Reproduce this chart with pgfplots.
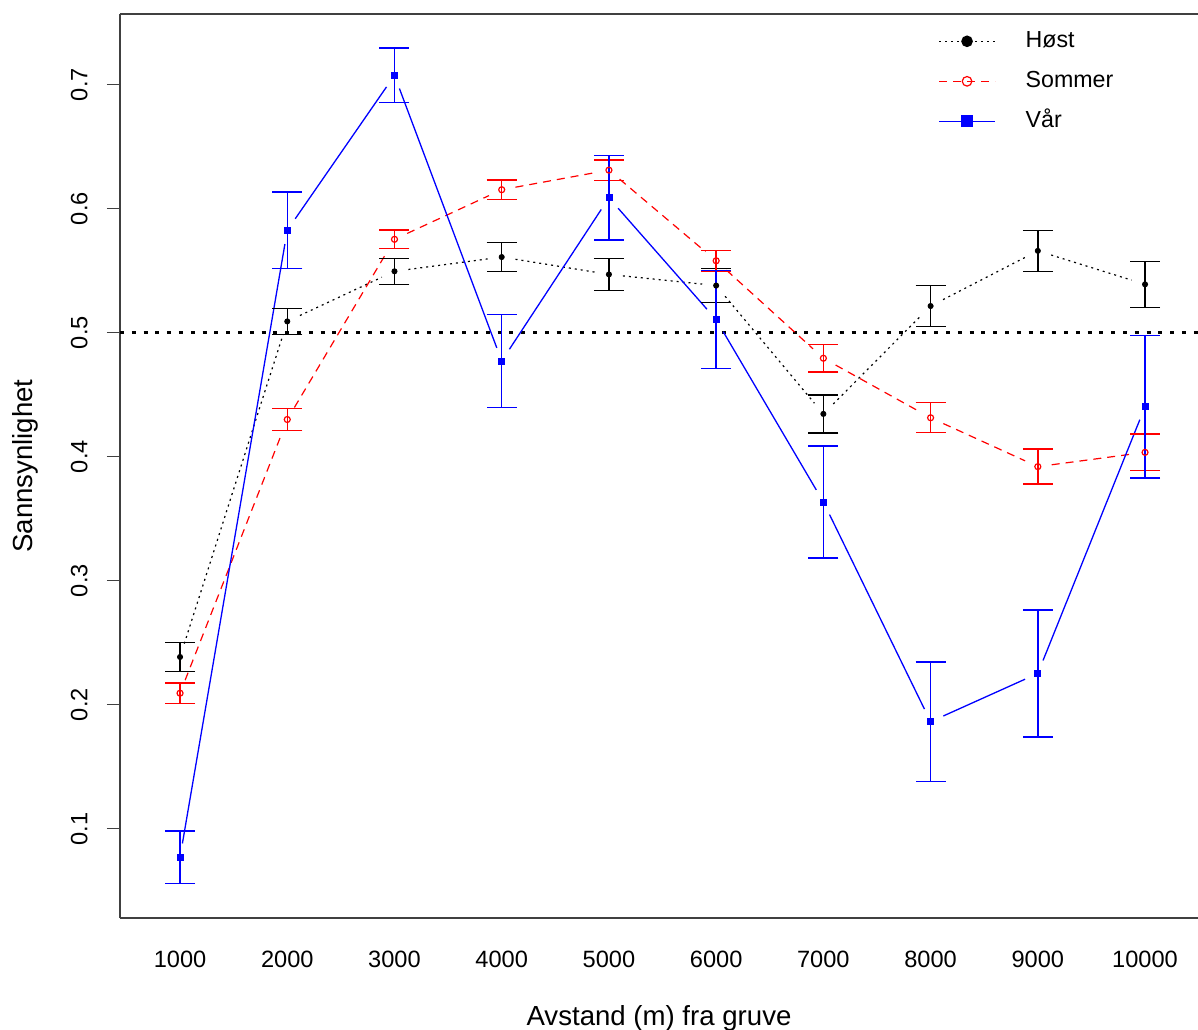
\documentclass[border=0pt]{standalone}
\usepackage{fontspec}
\setmainfont{Liberation Sans}
\usepackage{pgfplots}
\usepackage{pgfplotstable}
\pgfplotsset{compat=1.18}
\usetikzlibrary{calc}

\pgfplotstableread{
x y e
1000 0.2385 0.0117
2000 0.5091 0.0106
3000 0.5495 0.0105
4000 0.5610 0.0118
5000 0.5470 0.0128
6000 0.5380 0.0137
7000 0.4345 0.0153
8000 0.5215 0.0164
9000 0.5660 0.0165
10000 0.5390 0.0186
}\host
\pgfplotstableread{
x y e
1000 0.2093 0.0082
2000 0.4300 0.0089
3000 0.5753 0.0076
4000 0.6153 0.0077
5000 0.6311 0.0082
6000 0.5580 0.0085
7000 0.4794 0.0110
8000 0.4314 0.0121
9000 0.3920 0.0141
10000 0.4035 0.0147
}\sommer
\pgfplotstableread{
x y e
1000 0.0770 0.0212
2000 0.5826 0.0310
3000 0.7075 0.0221
4000 0.4772 0.0373
5000 0.6088 0.0339
6000 0.5105 0.0395
7000 0.3635 0.0452
8000 0.1863 0.0483
9000 0.2252 0.0511
10000 0.4403 0.0574
}\var

\definecolor{axgray}{RGB}{64,64,64}
\definecolor{rblue}{RGB}{0,0,255}
\definecolor{rred}{RGB}{255,0,0}

\begin{document}
\begin{tikzpicture}
\begin{axis}[
  scale only axis, width=539pt, height=452pt,
  xmin=440, xmax=10494, ymin=0.028, ymax=0.757,
  axis x line*=box, axis y line*=left,
  axis line style={axgray, line width=0.75pt},
  scaled x ticks=false, scaled y ticks=false,
  xtick={1000,2000,3000,4000,5000,6000,7000,8000,9000,10000},
  ytick={0.1,0.2,0.3,0.4,0.5,0.6,0.7},
  yticklabels={0.1,0.2,0.3,0.4,0.5,0.6,0.7},
  xticklabels={1000,2000,3000,4000,5000,6000,7000,8000,9000,10000},
  tick align=outside, major tick length=6.5pt,
  tick style={axgray, line width=0.75pt},
  x tick style={draw=none},
  xticklabel style={font=\fontsize{11.8pt}{13pt}\selectfont, inner sep=0pt, anchor=north, yshift=-10pt},
  yticklabel style={font=\fontsize{11.8pt}{13pt}\selectfont, rotate=90, anchor=south, inner sep=0pt},
  yticklabel shift=9.5pt,
  xlabel={Avstand (m) fra gruve},
  ylabel={Sannsynlighet},
  xlabel style={font=\fontsize{13.8pt}{16pt}\selectfont, at={([yshift=-53.5pt]axis description cs:0.5,0)}, anchor=base},
  ylabel style={font=\fontsize{13.8pt}{16pt}\selectfont, at={([xshift=-43.5pt]axis description cs:0,0.5)}, rotate=0, anchor=base},
  legend image code/.code={\draw[mark repeat=2,mark phase=2] plot coordinates {(0pt,0pt) (14pt,0pt) (28pt,0pt)};},
  legend style={draw=none, fill=none, at={(0.7588,0.9835)}, anchor=north west, inner sep=0pt,
    column sep=15pt, row sep=8pt, font=\fontsize{11.6pt}{13pt}\selectfont,
    nodes={inner sep=0pt, text height=9pt, text depth=3pt}},
  legend cell align=left,
]
% reference line
\addplot[black, line width=1.4pt, dash pattern=on 2pt off 3.9pt, forget plot] coordinates {(440,0.5) (10494,0.5)};

% Høst segments
\pgfplotsset{hseg/.style={black, line width=0.6pt, dash pattern=on 1pt off 2pt, shorten <=7pt, shorten >=7pt, forget plot}}
\addplot[hseg] coordinates {(1000,0.2385) (2000,0.5091)};
\addplot[hseg] coordinates {(2000,0.5091) (3000,0.5495)};
\addplot[hseg] coordinates {(3000,0.5495) (4000,0.5610)};
\addplot[hseg] coordinates {(4000,0.5610) (5000,0.5470)};
\addplot[hseg] coordinates {(5000,0.5470) (6000,0.5380)};
\addplot[hseg] coordinates {(6000,0.5380) (7000,0.4345)};
\addplot[hseg] coordinates {(7000,0.4345) (8000,0.5215)};
\addplot[hseg] coordinates {(8000,0.5215) (9000,0.5660)};
\addplot[hseg] coordinates {(9000,0.5660) (10000,0.5390)};

% Sommer segments
\pgfplotsset{sseg/.style={rred, line width=0.6pt, dash pattern=on 4pt off 3pt, shorten <=7pt, shorten >=7pt, forget plot}}
\addplot[sseg] coordinates {(1000,0.2093) (2000,0.4300)};
\addplot[sseg] coordinates {(2000,0.4300) (3000,0.5753)};
\addplot[sseg] coordinates {(3000,0.5753) (4000,0.6153)};
\addplot[sseg] coordinates {(4000,0.6153) (5000,0.6311)};
\addplot[sseg] coordinates {(5000,0.6311) (6000,0.5580)};
\addplot[sseg] coordinates {(6000,0.5580) (7000,0.4794)};
\addplot[sseg] coordinates {(7000,0.4794) (8000,0.4314)};
\addplot[sseg] coordinates {(8000,0.4314) (9000,0.3920)};
\addplot[sseg] coordinates {(9000,0.3920) (10000,0.4035)};

% Vår segments
\pgfplotsset{vseg/.style={rblue, line width=0.65pt, solid, shorten <=7pt, shorten >=7pt, forget plot}}
\addplot[vseg] coordinates {(1000,0.0770) (2000,0.5826)};
\addplot[vseg] coordinates {(2000,0.5826) (3000,0.7075)};
\addplot[vseg] coordinates {(3000,0.7075) (4000,0.4772)};
\addplot[vseg] coordinates {(4000,0.4772) (5000,0.6088)};
\addplot[vseg] coordinates {(5000,0.6088) (6000,0.5105)};
\addplot[vseg] coordinates {(6000,0.5105) (7000,0.3635)};
\addplot[vseg] coordinates {(7000,0.3635) (8000,0.1863)};
\addplot[vseg] coordinates {(8000,0.1863) (9000,0.2252)};
\addplot[vseg] coordinates {(9000,0.2252) (10000,0.4403)};

% points with error bars
\addplot[only marks, black, mark=*, mark size=1.3pt, forget plot,
  error bars/.cd, y dir=both, y explicit,
  error bar style={black, line width=0.7pt},
  error mark options={rotate=90, black, line width=0.7pt, mark size=7.5pt}]
  table[x=x, y=y, y error=e] {\host};
\addplot[only marks, rred, mark=o, mark size=1.5pt, mark options={fill=white, line width=0.6pt}, forget plot,
  error bars/.cd, y dir=both, y explicit,
  error bar style={rred, line width=0.7pt},
  error mark options={rotate=90, rred, line width=0.7pt, mark size=7.5pt}]
  table[x=x, y=y, y error=e] {\sommer};
\addplot[only marks, rblue, mark=square*, mark size=1.5pt, forget plot,
  error bars/.cd, y dir=both, y explicit,
  error bar style={rblue, line width=0.7pt},
  error mark options={rotate=90, rblue, line width=0.7pt, mark size=7.5pt}]
  table[x=x, y=y, y error=e] {\var};

% legend
\addlegendimage{black, line width=0.6pt, dash pattern=on 1pt off 2pt, mark=*, mark size=2.6pt, mark options={solid}}
\addlegendentry{Høst}
\addlegendimage{rred, line width=0.6pt, dash pattern=on 4pt off 3pt, mark=o, mark size=2.4pt, mark options={solid, fill=white}}
\addlegendentry{Sommer}
\addlegendimage{rblue, line width=0.65pt, solid, mark=square*, mark size=2.6pt}
\addlegendentry{Vår}
\end{axis}
\pgfresetboundingbox
\path[use as bounding box] ($(current axis.south west)+(-60pt,-55.5pt)$) rectangle ($(current axis.north east)+(0pt,7pt)$);
\end{tikzpicture}
\end{document}
